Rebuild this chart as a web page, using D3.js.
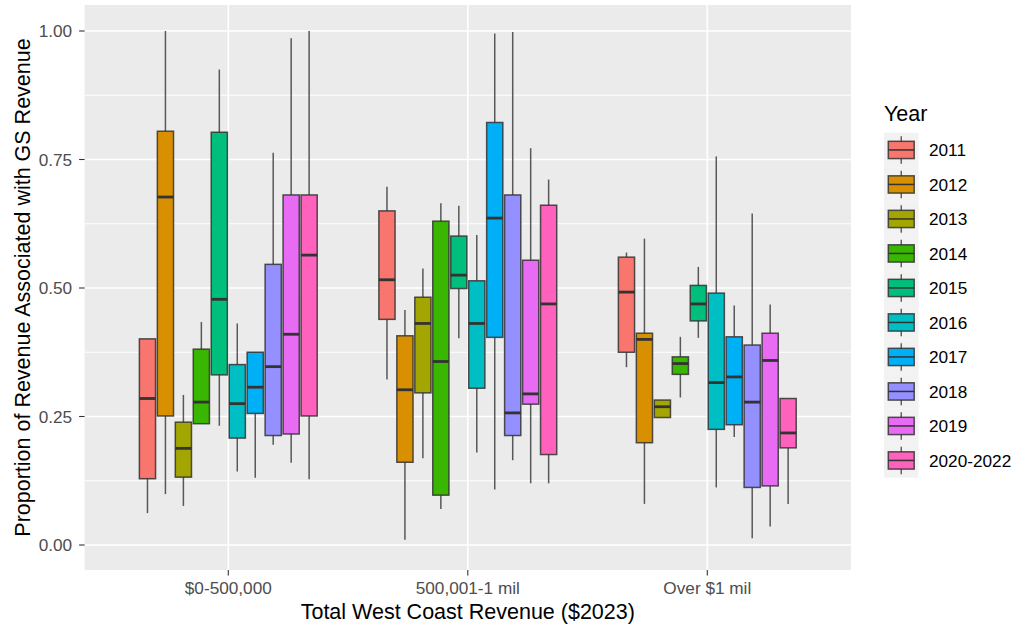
<!DOCTYPE html>
<html>
<head>
<meta charset="utf-8">
<script src="https://cdn.jsdelivr.net/npm/d3@7"></script>
<style>
  html, body { margin: 0; padding: 0; background: #ffffff; }
  svg { display: block; font-family: "Liberation Sans", Arial, sans-serif; }
</style>
</head>
<body>
<svg id="chart" width="1018" height="630"></svg>
<script>
// Revenue groups along the x axis
const categories = ["$0-500,000", "500,001-1 mil", "Over $1 mil"];
// Years shown as dodged boxes inside each group
const years = ["2011", "2012", "2013", "2014", "2015", "2016", "2017", "2018", "2019", "2020-2022"];
const yearColors = ["#F8766D", "#D89000", "#A3A500", "#39B600", "#00BF7D",
                    "#00BFC4", "#00B0F6", "#9590FF", "#E76BF3", "#FF62BC"];
const yTicks = [0, 0.25, 0.5, 0.75, 1];
const yMinorTicks = [0.125, 0.375, 0.625, 0.875];

// Box statistics, one row per revenue group, one entry per year
const whiskerLow = [
  [0.062, 0.099, 0.076, 0.236, 0.232, 0.143, 0.131, 0.195, 0.160, 0.128],
  [0.322, 0.010, 0.169, 0.070, 0.402, 0.180, 0.108, 0.165, 0.120, 0.120],
  [0.346, 0.080, 0.248, 0.287, 0.403, 0.112, 0.210, 0.013, 0.036, 0.080]
];
const lowerQuartile = [
  [0.129, 0.251, 0.132, 0.236, 0.331, 0.208, 0.256, 0.213, 0.216, 0.251],
  [0.439, 0.161, 0.296, 0.097, 0.499, 0.305, 0.404, 0.213, 0.274, 0.176],
  [0.375, 0.199, 0.248, 0.332, 0.436, 0.225, 0.234, 0.112, 0.115, 0.189]
];
const medians = [
  [0.285, 0.677, 0.188, 0.278, 0.478, 0.275, 0.307, 0.347, 0.410, 0.564],
  [0.516, 0.302, 0.431, 0.357, 0.525, 0.431, 0.636, 0.257, 0.294, 0.469],
  [0.492, 0.400, 0.269, 0.353, 0.469, 0.316, 0.327, 0.278, 0.359, 0.218]
];
const upperQuartile = [
  [0.401, 0.805, 0.239, 0.381, 0.803, 0.351, 0.375, 0.546, 0.681, 0.681],
  [0.650, 0.407, 0.482, 0.630, 0.601, 0.514, 0.822, 0.681, 0.554, 0.661],
  [0.560, 0.412, 0.282, 0.366, 0.505, 0.490, 0.405, 0.389, 0.412, 0.285]
];
const whiskerHigh = [
  [0.401, 1.000, 0.292, 0.434, 0.925, 0.431, 0.375, 0.763, 0.986, 1.000],
  [0.697, 0.457, 0.538, 0.665, 0.660, 0.603, 0.995, 0.998, 0.772, 0.711],
  [0.569, 0.596, 0.282, 0.405, 0.541, 0.756, 0.466, 0.645, 0.468, 0.285]
];

const svg = d3.select("#chart");
const panel = { left: 84.6, right: 851, top: 5, bottom: 570 };

const x = d3.scalePoint().domain(categories).range([panel.left, panel.right]).padding(0.6);
const y = d3.scaleLinear().domain([0, 1]).range([545, 31]);
const dodge = d3.scaleBand().domain(years).range([-x.step() * 0.375, x.step() * 0.375]).paddingInner(0.1).paddingOuter(0.05);
const color = d3.scaleOrdinal().domain(years).range(yearColors);

// Panel background and grid
svg.append("rect")
  .attr("x", panel.left).attr("y", panel.top)
  .attr("width", panel.right - panel.left).attr("height", panel.bottom - panel.top)
  .attr("fill", "#EBEBEB");

const grid = svg.append("g");
grid.selectAll("line.minor").data(yMinorTicks).join("line")
  .attr("x1", panel.left).attr("x2", panel.right)
  .attr("y1", d => y(d)).attr("y2", d => y(d))
  .attr("stroke", "#ffffff").attr("stroke-width", 1.0);
grid.selectAll("line.majorY").data(yTicks).join("line")
  .attr("x1", panel.left).attr("x2", panel.right)
  .attr("y1", d => y(d)).attr("y2", d => y(d))
  .attr("stroke", "#ffffff").attr("stroke-width", 1.6);
grid.selectAll("line.majorX").data(categories).join("line")
  .attr("y1", panel.top).attr("y2", panel.bottom)
  .attr("x1", d => x(d)).attr("x2", d => x(d))
  .attr("stroke", "#ffffff").attr("stroke-width", 1.6);

// Flatten box records
const boxes = [];
categories.forEach((c, gi) => {
  years.forEach((yr, yi) => {
    boxes.push({
      cat: c, year: yr,
      lo: whiskerLow[gi][yi], q1: lowerQuartile[gi][yi], med: medians[gi][yi],
      q3: upperQuartile[gi][yi], hi: whiskerHigh[gi][yi]
    });
  });
});

const bw = dodge.bandwidth();
const cx = d => x(d.cat) + dodge(d.year) + bw / 2;
const outline = "#333333";

const marks = svg.append("g");
const boxG = marks.selectAll("g.box").data(boxes).join("g");

boxG.append("line")
  .attr("x1", cx).attr("x2", cx)
  .attr("y1", d => y(d.q3)).attr("y2", d => y(d.hi))
  .attr("stroke", outline).attr("stroke-width", 1.5).attr("stroke-opacity", 0.8);
boxG.append("line")
  .attr("x1", cx).attr("x2", cx)
  .attr("y1", d => y(d.lo)).attr("y2", d => y(d.q1))
  .attr("stroke", outline).attr("stroke-width", 1.5).attr("stroke-opacity", 0.8);
boxG.append("rect")
  .attr("x", d => cx(d) - bw / 2).attr("width", bw)
  .attr("y", d => y(d.q3)).attr("height", d => y(d.q1) - y(d.q3))
  .attr("fill", d => color(d.year))
  .attr("stroke", outline).attr("stroke-width", 1.5).attr("stroke-opacity", 0.85);
boxG.append("line")
  .attr("x1", d => cx(d) - bw / 2).attr("x2", d => cx(d) + bw / 2)
  .attr("y1", d => y(d.med)).attr("y2", d => y(d.med))
  .attr("stroke", outline).attr("stroke-width", 2.8);

// Axes
const tickColor = "#333333";
const labelColor = "#4D4D4D";

const yAxis = svg.append("g");
yAxis.selectAll("line").data(yTicks).join("line")
  .attr("x1", panel.left - 5.5).attr("x2", panel.left)
  .attr("y1", d => y(d)).attr("y2", d => y(d))
  .attr("stroke", tickColor).attr("stroke-width", 1.1);
yAxis.selectAll("text").data(yTicks).join("text")
  .attr("x", panel.left - 12.5).attr("y", d => y(d))
  .attr("dy", "0.36em")
  .attr("text-anchor", "end")
  .attr("font-size", 17.2).attr("fill", labelColor)
  .text(d3.format(".2f"));

const xAxis = svg.append("g");
xAxis.selectAll("line").data(categories).join("line")
  .attr("x1", d => x(d)).attr("x2", d => x(d))
  .attr("y1", panel.bottom).attr("y2", panel.bottom + 5.5)
  .attr("stroke", tickColor).attr("stroke-width", 1.1);
xAxis.selectAll("text").data(categories).join("text")
  .attr("x", d => x(d)).attr("y", 594)
  .attr("text-anchor", "middle")
  .attr("font-size", 17.2).attr("fill", labelColor)
  .text(d => d);

svg.append("text")
  .attr("x", (panel.left + panel.right) / 2).attr("y", 618.5)
  .attr("text-anchor", "middle").attr("font-size", 21.5).attr("fill", "#000")
  .text("Total West Coast Revenue ($2023)");

svg.append("text")
  .attr("transform", `translate(30,${(panel.top + panel.bottom) / 2}) rotate(-90)`)
  .attr("text-anchor", "middle").attr("font-size", 21.5).attr("fill", "#000")
  .text("Proportion of Revenue Associated with GS Revenue");

// Legend
const keySize = 34.5;
const legend = svg.append("g").attr("transform", "translate(884,132.7)");
legend.append("text")
  .attr("x", 0).attr("y", -12)
  .attr("font-size", 21.5).attr("fill", "#000")
  .text("Year");

const keys = legend.selectAll("g.key").data(years).join("g")
  .attr("transform", (d, i) => `translate(0,${i * keySize})`);
keys.append("rect")
  .attr("width", keySize).attr("height", keySize)
  .attr("fill", "#F2F2F2");
keys.append("line")
  .attr("x1", keySize / 2).attr("x2", keySize / 2)
  .attr("y1", keySize * 0.1).attr("y2", keySize * 0.9)
  .attr("stroke", outline).attr("stroke-width", 1.4).attr("stroke-opacity", 0.8);
keys.append("rect")
  .attr("x", keySize * 0.125).attr("y", keySize * 0.25)
  .attr("width", keySize * 0.75).attr("height", keySize * 0.5)
  .attr("fill", d => color(d))
  .attr("stroke", outline).attr("stroke-width", 1.5).attr("stroke-opacity", 0.85);
keys.append("line")
  .attr("x1", keySize * 0.125).attr("x2", keySize * 0.875)
  .attr("y1", keySize / 2).attr("y2", keySize / 2)
  .attr("stroke", outline).attr("stroke-width", 1.5);
keys.append("text")
  .attr("x", 45).attr("y", keySize / 2).attr("dy", "0.36em")
  .attr("font-size", 17.2).attr("fill", "#000")
  .text(d => d);
</script>
</body>
</html>
